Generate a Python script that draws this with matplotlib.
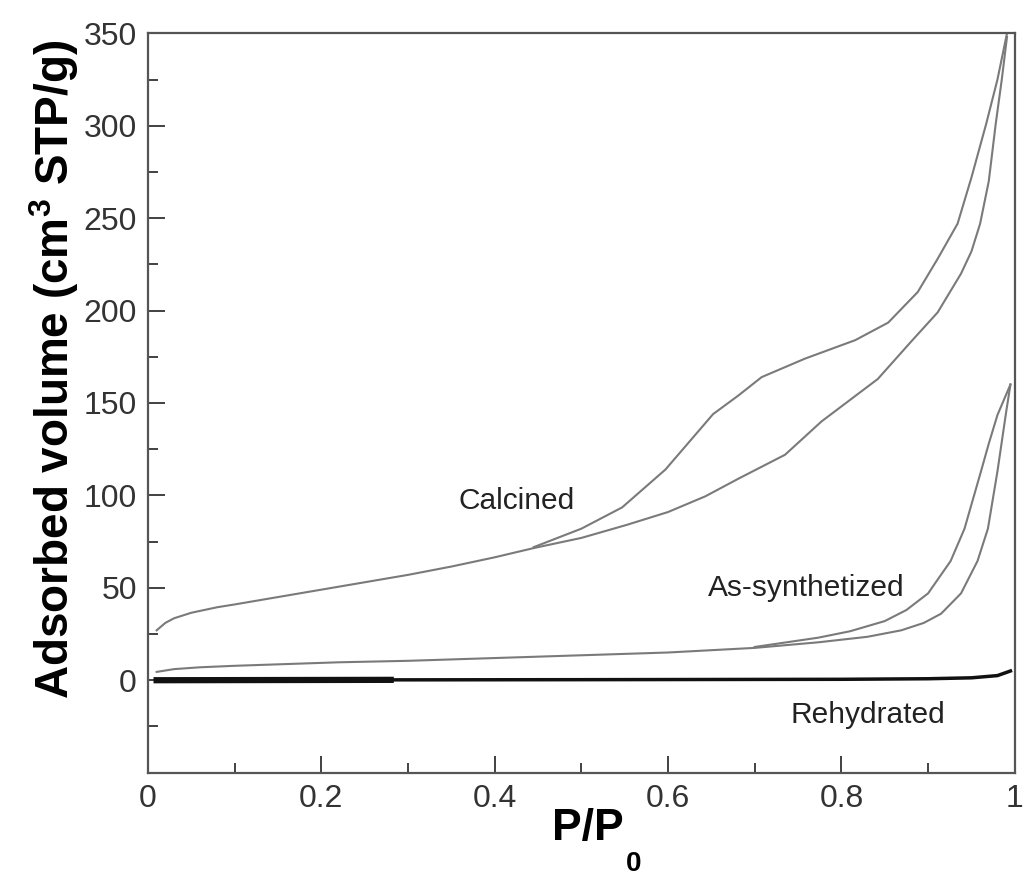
import numpy as np
import matplotlib
matplotlib.use("Agg")
import matplotlib.pyplot as plt
from matplotlib.ticker import MultipleLocator, FormatStrFormatter

plt.rcParams['font.family'] = ['Liberation Sans', 'DejaVu Sans']
plt.rcParams['mathtext.fontset'] = 'custom'
plt.rcParams['mathtext.rm'] = 'Liberation Sans'
plt.rcParams['mathtext.bf'] = 'Liberation Sans:bold'

# Calcined - adsorption branch
calc_ads_x = [0.01, 0.02, 0.03, 0.05, 0.08, 0.10, 0.15, 0.20, 0.25, 0.30, 0.35, 0.40,
              0.445, 0.50, 0.552, 0.60, 0.643, 0.681, 0.735, 0.777, 0.842, 0.880,
              0.911, 0.938, 0.950, 0.960, 0.970, 0.978, 0.985, 0.991]
calc_ads_y = [27, 31, 33.5, 36.5, 39.5, 41, 45, 49, 53, 57, 61.5, 66.5,
              71.5, 77, 84, 91, 99.5, 109, 122, 140, 163, 183,
              199, 220, 232, 247, 270, 301, 325, 348]
# Calcined - desorption branch
calc_des_x = [0.991, 0.980, 0.967, 0.950, 0.934, 0.911, 0.888, 0.854, 0.816, 0.758,
              0.708, 0.681, 0.652, 0.597, 0.547, 0.50, 0.445]
calc_des_y = [350, 325, 301, 272, 247, 228, 210, 193.5, 184, 174,
              164, 154, 144, 114, 93.5, 82, 72]

# As-synthetized
asyn_ads_x = [0.01, 0.03, 0.06, 0.10, 0.22, 0.30, 0.40, 0.50, 0.60, 0.70, 0.773,
              0.830, 0.869, 0.895, 0.915, 0.938, 0.957, 0.969, 0.980, 0.990, 0.995]
asyn_ads_y = [4.5, 6, 7, 7.8, 9.7, 10.5, 12, 13.5, 15, 17.5, 20.5,
              23.5, 27, 31, 36, 47, 64.5, 82, 113, 145, 160]
asyn_des_x = [0.995, 0.980, 0.970, 0.961, 0.942, 0.926, 0.900, 0.875, 0.850, 0.810,
              0.773, 0.70]
asyn_des_y = [160, 143.5, 128, 113, 82, 64.5, 47, 38, 32, 26.5, 23, 18]

# Rehydrated
rehy_x = [0.01, 0.28, 0.50, 0.80, 0.90, 0.95, 0.98, 0.995]
rehy_y = [0.0, 0.2, 0.3, 0.5, 0.8, 1.3, 2.5, 5.0]
rehy_thick_x = [0.01, 0.28]
rehy_thick_y = [0.0, 0.2]

fig = plt.figure(figsize=(10.24, 8.77), dpi=100)
ax = fig.add_axes([0.1445, 0.119, 0.8465, 0.843])

gray = '#7a7a7a'
ax.plot(calc_ads_x, calc_ads_y, color=gray, lw=1.5)
ax.plot(calc_des_x, calc_des_y, color=gray, lw=1.5)
ax.plot(asyn_ads_x, asyn_ads_y, color=gray, lw=1.5)
ax.plot(asyn_des_x, asyn_des_y, color=gray, lw=1.5)
ax.plot(rehy_x, rehy_y, color='#111111', lw=2.5)
ax.plot(rehy_thick_x, rehy_thick_y, color='#111111', lw=4.5)

ax.text(0.425, 97, 'Calcined', fontsize=21.5, ha='center', va='center', color='#222222')
ax.text(0.76, 50, 'As-synthetized', fontsize=21.5, ha='center', va='center', color='#222222')
ax.text(0.83, -19, 'Rehydrated', fontsize=21.5, ha='center', va='center', color='#222222')

ax.set_xlim(0, 1)
ax.set_ylim(-50, 350)
ax.xaxis.set_major_locator(MultipleLocator(0.2))
ax.xaxis.set_minor_locator(MultipleLocator(0.1))
ax.yaxis.set_major_locator(MultipleLocator(50))
ax.yaxis.set_minor_locator(MultipleLocator(25))
ax.xaxis.set_major_formatter(FormatStrFormatter('%g'))
ax.set_yticks([0, 50, 100, 150, 200, 250, 300, 350])

ax.tick_params(which='major', direction='in', length=12, width=1.3, labelsize=23,
               colors='#333333', pad=8)
ax.tick_params(which='minor', direction='in', length=7, width=1.3, colors='#333333')
for sp in ax.spines.values():
    sp.set_linewidth(1.6)
    sp.set_color('#555555')

xlab = ax.set_xlabel('P/P', fontsize=32, fontweight='bold')
ax.xaxis.set_label_coords(0.508, -0.048)
ax.annotate('0', xy=(1, 0), xycoords=xlab, xytext=(1, -1), textcoords='offset points',
            fontsize=20, fontweight='bold', ha='left', va='top', annotation_clip=False)
ax.set_ylabel(r'Adsorbed volume (cm$^{\mathbf{3}}$ STP/g)', fontsize=33,
              fontweight='bold')
ax.yaxis.set_label_coords(-0.077, 0.545)

fig.savefig('out.png', dpi=100)
